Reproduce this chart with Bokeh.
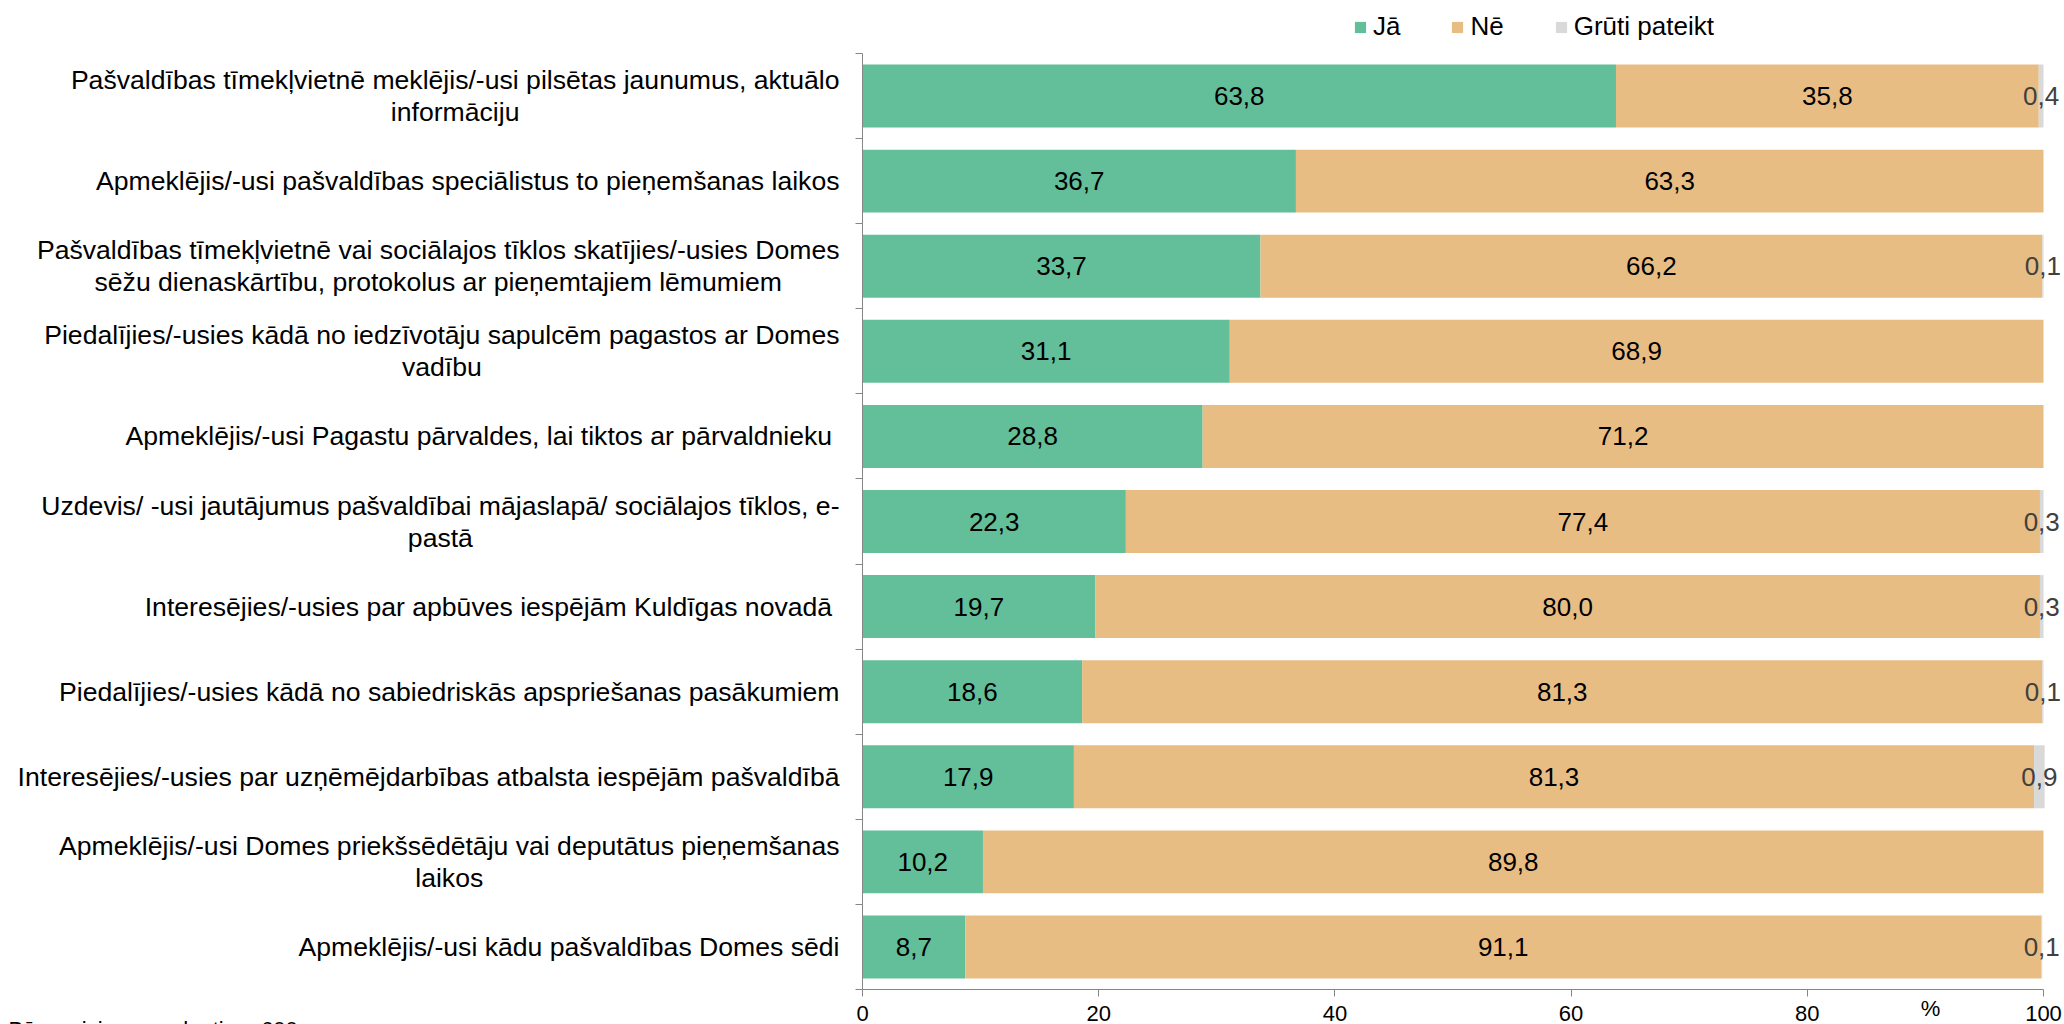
from bokeh.plotting import figure
from bokeh.models import (Range1d, FixedTicker, ColumnDataSource, Legend, LegendItem)
from bokeh.core.properties import value
from bokeh.embed import file_html
from bokeh.resources import INLINE

# ---------------- data ----------------
categories = [
    "Pašvaldības tīmekļvietnē meklējis/-usi pilsētas jaunumus, aktuālo\ninformāciju",
    "Apmeklējis/-usi pašvaldības speciālistus to pieņemšanas laikos",
    "Pašvaldības tīmekļvietnē vai sociālajos tīklos skatījies/-usies Domes\nsēžu dienaskārtību, protokolus ar pieņemtajiem lēmumiem",
    "Piedalījies/-usies kādā no iedzīvotāju sapulcēm pagastos ar Domes\nvadību",
    "Apmeklējis/-usi Pagastu pārvaldes, lai tiktos ar pārvaldnieku ",
    "Uzdevis/ -usi jautājumus pašvaldībai mājaslapā/ sociālajos tīklos, e-\npastā",
    "Interesējies/-usies par apbūves iespējām Kuldīgas novadā ",
    "Piedalījies/-usies kādā no sabiedriskās apspriešanas pasākumiem",
    "Interesējies/-usies par uzņēmējdarbības atbalsta iespējām pašvaldībā",
    "Apmeklējis/-usi Domes priekšsēdētāju vai deputātus pieņemšanas\nlaikos",
    "Apmeklējis/-usi kādu pašvaldības Domes sēdi",
]
ja = [63.8, 36.7, 33.7, 31.1, 28.8, 22.3, 19.7, 18.6, 17.9, 10.2, 8.7]
ne = [35.8, 63.3, 66.2, 68.9, 71.2, 77.4, 80.0, 81.3, 81.3, 89.8, 91.1]
gruti = [0.4, 0.0, 0.1, 0.0, 0.0, 0.3, 0.3, 0.1, 0.9, 0.0, 0.1]
series_names = ["Jā", "Nē", "Grūti pateikt"]
x_ticks = [0, 20, 40, 60, 80, 100]
unit_label = "%"
note = "Bāze: visi respondenti, n=600"

# ---------------- style / layout ----------------
colors = ["#63BE9A", "#E8BD84", "#D9D9D9"]
FONT = "Liberation Sans"
AXIS_COLOR = "#868686"
W, H = 2064, 1024
n = len(categories)

# plot area in canvas pixels
PX_L, PX_R, PX_T, PX_B = 862.0, 2043.0, 53.0, 989.0
SX = (PX_R - PX_L) / 100.0
SY = (PX_B - PX_T) / n


def xd(px):  # canvas px -> data x
    return (px - PX_L) / SX


def yd(py):  # canvas px -> data y (rows grow downward)
    return (py - PX_T) / SY


# approximate Arial/Liberation Sans advance widths (per 1000 em)
_W = dict(zip("abcdefghijklmnopqrstuvwxyz",
              [556, 556, 500, 556, 556, 278, 556, 556, 222, 222, 500, 222, 833,
               556, 556, 556, 556, 333, 500, 278, 556, 500, 722, 500, 500, 500]))
_W.update(dict(zip("ABCDEFGHIJKLMNOPQRSTUVWXYZ",
                   [667, 667, 722, 722, 667, 611, 778, 722, 278, 500, 667, 556, 833,
                    722, 778, 667, 778, 722, 667, 611, 722, 667, 944, 667, 667, 611])))
_W.update({" ": 278, "/": 278, "-": 333, ",": 278, ".": 278, "ī": 278})
_BASE = {"ā": "a", "ē": "e", "ū": "u", "š": "s", "ž": "z", "č": "c", "ņ": "n",
         "ļ": "l", "ķ": "k", "ģ": "g"}


def text_width(s, size):
    return sum(_W.get(_BASE.get(ch, ch), 556) for ch in s) * size / 1000.0


def fmt(v):
    return f"{v:.1f}".replace(".", ",")


# ---------------- figure ----------------
p = figure(width=W, height=H,
           x_range=Range1d(xd(0), xd(W)), y_range=Range1d(yd(H), yd(0)),
           output_backend="svg", toolbar_location=None,
           min_border_left=0, min_border_right=0, min_border_top=0, min_border_bottom=0)
p.outline_line_color = None
p.grid.visible = False
p.background_fill_color = "white"

ys = [i + 0.5 for i in range(n)]
left = [0.0] * n
renderers = []
value_src = {"x": [], "y": [], "t": []}
small_src = {"x": [], "y": [], "t": []}
for si, vals in enumerate([ja, ne, gruti]):
    right = [l + v for l, v in zip(left, vals)]
    src = ColumnDataSource(dict(y=ys, left=left, right=right))
    r = p.hbar(y="y", left="left", right="right", height=0.74, source=src,
               fill_color=colors[si], line_color=None)
    renderers.append(r)
    for i, v in enumerate(vals):
        if v <= 0:
            continue
        tgt = small_src if si == 2 else value_src
        tgt["x"].append((left[i] + right[i]) / 2)
        tgt["y"].append(ys[i])
        tgt["t"].append(fmt(v))
    left = right

p.text(x="x", y="y", text="t", source=ColumnDataSource(value_src),
       text_align="center", text_baseline="middle",
       text_font=value(FONT), text_font_size="26px", text_color="#000000")
p.text(x="x", y="y", text="t", source=ColumnDataSource(small_src),
       text_align="center", text_baseline="middle",
       text_font=value(FONT), text_font_size="26px", text_color="#404040")

# category labels (right-aligned block, second line centred under the first)
CAT_SIZE = 26.6
LABEL_RIGHT = 839.0
LINE_GAP = 16.0
cat_src = {"x": [], "y": [], "t": [], "a": []}
for i, cat in enumerate(categories):
    lines = cat.split("\n")
    if len(lines) == 1:
        cat_src["x"].append(xd(LABEL_RIGHT))
        cat_src["y"].append(ys[i])
        cat_src["t"].append(lines[0])
        cat_src["a"].append("right")
    else:
        w1 = text_width(lines[0], CAT_SIZE)
        cat_src["x"] += [xd(LABEL_RIGHT), xd(LABEL_RIGHT - w1 / 2)]
        cat_src["y"] += [ys[i] - LINE_GAP / SY, ys[i] + LINE_GAP / SY]
        cat_src["t"] += lines
        cat_src["a"] += ["right", "center"]
p.text(x="x", y="y", text="t", text_align="a", source=ColumnDataSource(cat_src),
       text_baseline="middle", text_font=value(FONT),
       text_font_size=f"{CAT_SIZE}px", text_color="#000000")

# axes (fixed inside the canvas)
p.xaxis.fixed_location = n
p.xaxis.bounds = (0, 100)
p.xaxis.ticker = FixedTicker(ticks=x_ticks)
p.xaxis.axis_line_color = AXIS_COLOR
p.xaxis.major_tick_line_color = AXIS_COLOR
p.xaxis.major_tick_out = 7
p.xaxis.major_tick_in = 0
p.xaxis.minor_tick_line_color = None
p.xaxis.major_label_text_font = FONT
p.xaxis.major_label_text_font_size = "22px"
p.xaxis.major_label_text_color = "#000000"
p.xaxis.major_label_standoff = 9

p.yaxis.fixed_location = 0
p.yaxis.bounds = (0, n)
p.yaxis.ticker = FixedTicker(ticks=list(range(n + 1)))
p.yaxis.major_label_overrides = {i: "" for i in range(n + 1)}
p.yaxis.axis_line_color = AXIS_COLOR
p.yaxis.major_tick_line_color = AXIS_COLOR
p.yaxis.major_tick_out = 7
p.yaxis.major_tick_in = 0
p.yaxis.minor_tick_line_color = None

# unit label and source note
p.text(x=[xd(1930)], y=[yd(1008)], text=[unit_label], text_align="center",
       text_baseline="middle", text_font=value(FONT), text_font_size="22px",
       text_color="#000000")
p.text(x=[xd(8)], y=[yd(1016)], text=[note], text_align="left",
       text_baseline="top", text_font=value(FONT), text_font_size="22px",
       text_color="#000000")

# legend
legend = Legend(items=[LegendItem(label=nm, renderers=[r]) for nm, r in zip(series_names, renderers)],
                orientation="horizontal", location=(1353, H - 42),
                glyph_width=14, glyph_height=14, label_standoff=6, spacing=50,
                padding=0, margin=0, border_line_alpha=0, background_fill_alpha=0,
                label_text_font=FONT, label_text_font_size="26px",
                label_text_color="#000000")
p.add_layout(legend, "center")

open("out.html", "w").write(file_html(p, INLINE))
